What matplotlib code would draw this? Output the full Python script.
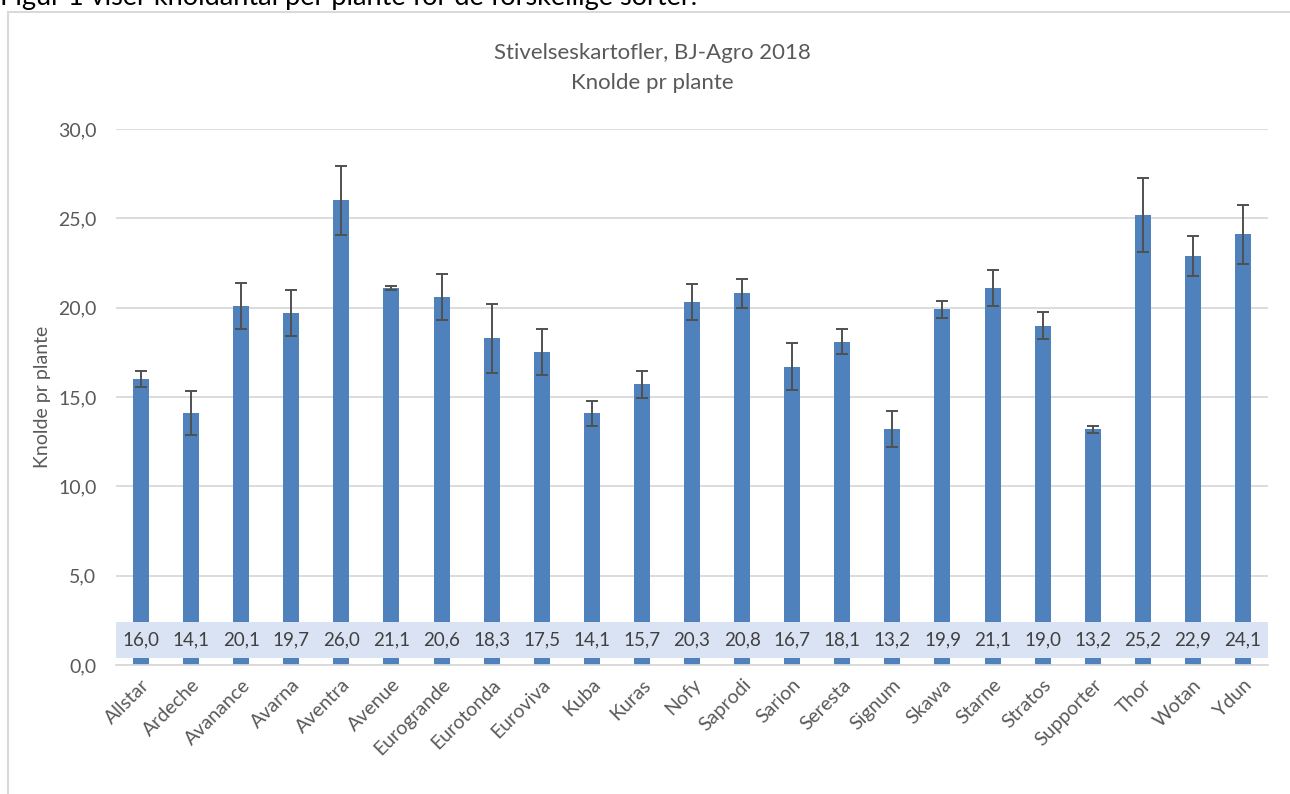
import numpy as np
import matplotlib
matplotlib.use("Agg")
import matplotlib.pyplot as plt
from matplotlib.patches import Rectangle
from matplotlib.ticker import FuncFormatter

plt.rcParams['font.family'] = ['Lato', 'DejaVu Sans']

# sorter og knolde pr plante
sorter = ["Allstar", "Ardeche", "Avanance", "Avarna", "Aventra", "Avenue",
          "Eurogrande", "Eurotonda", "Euroviva", "Kuba", "Kuras", "Nofy",
          "Saprodi", "Sarion", "Seresta", "Signum", "Skawa", "Starne",
          "Stratos", "Supporter", "Thor", "Wotan", "Ydun"]
knolde = [16.0, 14.1, 20.1, 19.7, 26.0, 21.1, 20.6, 18.3, 17.5, 14.1, 15.7,
          20.3, 20.8, 16.7, 18.1, 13.2, 19.9, 21.1, 19.0, 13.2, 25.2, 22.9, 24.1]
# fejlbarer
fejl = [0.45, 1.25, 1.3, 1.27, 1.95, 0.1, 1.3, 1.93, 1.28, 0.7, 0.75,
        1.0, 0.8, 1.3, 0.7, 1.0, 0.5, 1.0, 0.74, 0.2, 2.07, 1.13, 1.66]

tekst = "#595959"
gitter = "#D9D9D9"

fig = plt.figure(figsize=(12.9, 7.94), dpi=100)
ax = fig.add_axes([0.0899, 0.1625, 0.8931, 0.675])

x = np.arange(len(sorter))
ax.bar(x, knolde, width=0.32, color="#4F81BD", zorder=2)
ax.errorbar(x, knolde, yerr=fejl, fmt="none", ecolor="#505050",
            elinewidth=1.4, capsize=4.5, capthick=1.4, zorder=3)

# datalabels i et lyst bånd
ax.axhspan(0.4, 2.4, color="#DAE3F3", zorder=4, lw=0)
for xi, v in zip(x, knolde):
    ax.text(xi, 1.4, f"{v:.1f}".replace(".", ","), ha="center", va="center",
            fontsize=13.5, color="#404040", zorder=5)

ax.set_xlim(-0.5, len(sorter) - 0.5)
ax.set_ylim(0, 30)
ax.set_yticks(np.arange(0, 31, 5))
ax.yaxis.set_major_formatter(FuncFormatter(lambda v, p: f"{v:.1f}".replace(".", ",")))
ax.grid(axis="y", color=gitter, lw=1.3, zorder=0)
ax.set_axisbelow(True)
for s in ["top", "right", "left"]:
    ax.spines[s].set_visible(False)
ax.spines["bottom"].set_color(gitter)
ax.spines["bottom"].set_linewidth(1.3)
ax.tick_params(axis="y", length=0, labelsize=14, labelcolor=tekst, pad=14)
ax.tick_params(axis="x", length=0, labelsize=14, labelcolor=tekst, pad=8)
ax.set_xticks(x)
ax.set_xticklabels(sorter, rotation=45, ha="right", rotation_mode="anchor")
ax.set_ylabel("Knolde pr plante", fontsize=14, color=tekst, labelpad=5)

fig.text(0.5054, 0.933, "Stivelseskartofler, BJ-Agro 2018", ha="center",
         va="center", fontsize=16, color=tekst)
fig.text(0.5054, 0.896, "Knolde pr plante", ha="center", va="center",
         fontsize=16, color=tekst)

# ramme om diagrammet og afskåret tekst foroven
fig.patches.append(Rectangle((8 / 1290, -0.1), 1.1, 1.1 - 12 / 794,
                             transform=fig.transFigure, fill=False,
                             edgecolor=gitter, lw=1.5))
fig.text(0.0, 1.003, "Figur 1 viser knoldantal per plante for de forskellige sorter.",
         ha="left", va="center", fontsize=19.5, color="black")

fig.savefig("out.png", dpi=100)
